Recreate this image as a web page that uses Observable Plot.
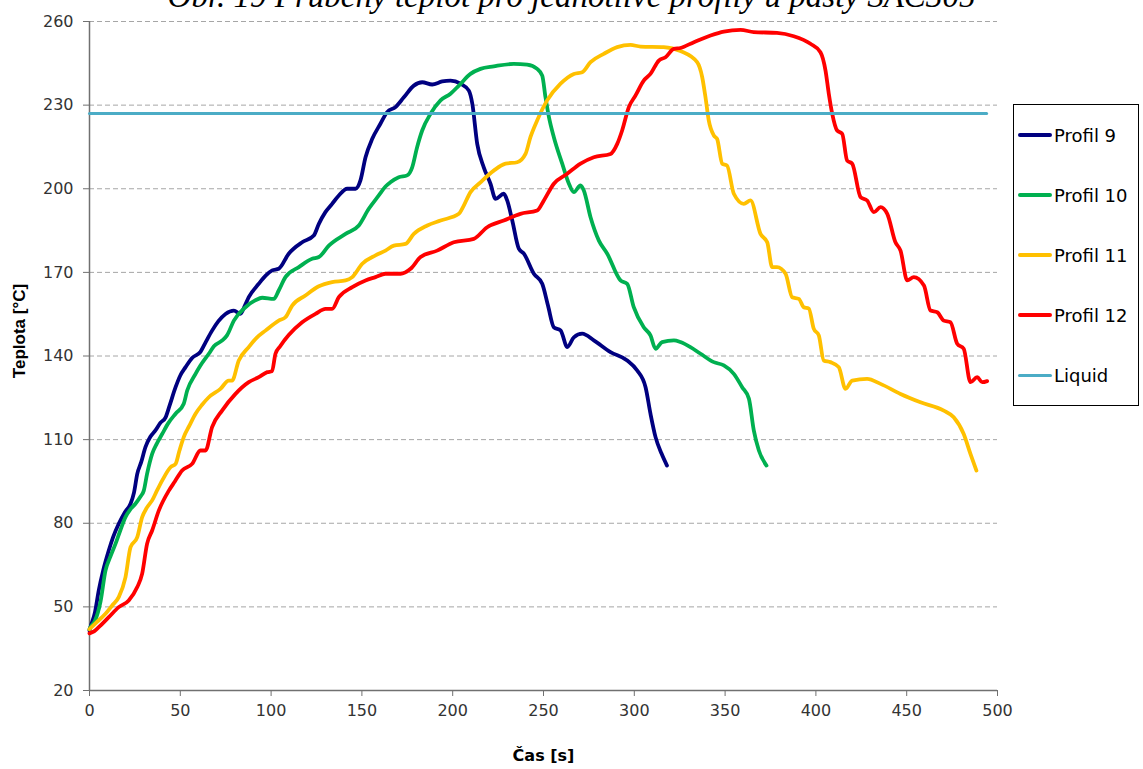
<!DOCTYPE html>
<html>
<head>
<meta charset="utf-8">
<script src="https://cdn.jsdelivr.net/npm/d3@7"></script>
<script src="https://cdn.jsdelivr.net/npm/@observablehq/plot@0.6"></script>
<style>
  html, body { margin: 0; padding: 0; background: #fff; }
  #wrap { position: relative; width: 1143px; height: 769px; overflow: hidden; background: #fff; }
  #title { position: absolute; left: 0; top: -20px; width: 1143px; text-align: center;
           font-family: "Liberation Serif", "Times New Roman", serif; font-style: italic; font-size: 33px; line-height: 1; color: #000; white-space: nowrap; }
  #chart { position: absolute; left: 0; top: 0; }
  #legend { position: absolute; left: 1013px; top: 104px; width: 124px; height: 300px; border: 1px solid #000; background: #fff;
            display: flex; flex-direction: column; justify-content: space-around; box-sizing: content-box; }
  .item { display: flex; align-items: center; height: 22px; font-family: "DejaVu Sans", sans-serif; font-size: 18px; color: #000; }
  .swatch { width: 34px; margin-left: 4px; margin-right: 2px; border-radius: 2px; }
</style>
</head>
<body>
<div id="wrap">
  <div id="chart"></div>
  <div id="title"></div>
  <div id="legend"></div>
</div>
<script>
const titleText = "Obr. 19 Průběhy teplot pro jednotlivé profily u pasty SAC305";
const xLabel = "Čas [s]";
const yLabel = "Teplota [°C]";
const xTicks = [0, 50, 100, 150, 200, 250, 300, 350, 400, 450, 500];
const yTicks = [20, 50, 80, 110, 140, 170, 200, 230, 260];
const seriesNames = ["Profil 9", "Profil 10", "Profil 11", "Profil 12", "Liquid"];
const seriesColors = ["#000080", "#00B050", "#FFC000", "#FF0000", "#4BACC6"];

// [time s, temperature °C]
const profil9 = [[0,41.5],[0.5,42.7],[3,48],[5.1,55.9],[7.5,63],[10.6,70.2],[13,75],[16.1,79.8],[19.5,84],[22.6,87],[24.5,91],[26.3,97.7],[28.5,102],[30.8,107.3],[33.5,111],[36.3,113.3],[39,116],[41.9,118],[44,122],[47.4,128.8],[50,133],[52.9,136],[56.5,139.3],[61.1,141.5],[64,145],[67.5,149.1],[71,152.5],[74.9,155.1],[79.5,156.3],[83.1,155.1],[85.5,158],[87.7,161.1],[93.2,165.9],[97,168.8],[100.6,170.7],[104.2,171.3],[109.7,176.7],[117.1,180.8],[123.5,183.2],[126.3,187.4],[129.9,191.6],[133.5,194.5],[137.3,197.6],[141.9,200],[146.5,200],[149.2,203],[152,211.3],[155.7,217.9],[160.2,223.3],[163.9,227.5],[168.5,229.3],[173.1,232.8],[178.6,237],[183.2,238.2],[188.7,237.4],[194.2,238.5],[198.8,238.8],[204.3,237.7],[208.9,235.2],[210.8,230.5],[213.5,216.1],[217.1,207.7],[220.8,201.8],[223.6,196.4],[228.1,198.2],[230,195.8],[232.8,188.6],[236.4,178.5],[239.2,176.7],[244.7,169.5],[249.3,165.9],[252.5,158],[255.7,150.3],[259.4,149.2],[263.1,143.2],[266.7,146.7],[271.3,148],[277.7,145.6],[286.9,141.4],[296.1,138.4],[301.6,134.8],[306.2,128.8],[308.9,119.3],[311.7,110.9],[315,105],[318,100.7]];
const profil10 = [[0,42],[0.5,42.7],[3,45],[6.1,52],[8.8,63],[11.5,68],[14.3,72.6],[17,77.5],[19.8,82.2],[22.5,85],[25.3,87],[28,89.5],[29.9,91.7],[31.7,97.7],[34.5,104.9],[37,108.5],[40,112],[43.5,116],[47.4,119.3],[51.9,122.9],[53.8,127.6],[58.4,133.6],[61,136.5],[65.7,140.8],[68.5,143.5],[73.1,145.6],[75.8,147.5],[79.5,152.7],[85.9,157.5],[91.4,160],[95.1,160.9],[101.5,160.5],[104.2,163.5],[107.9,168.3],[115.3,171.9],[122.6,174.9],[126.3,175.5],[131.8,179.6],[141,183.8],[148.3,186.8],[153.8,192.8],[159.3,197.6],[163,200.8],[165.7,202.3],[170.3,204.1],[174.9,204.8],[177.7,207.7],[180.4,214.9],[183.2,220.9],[187.8,226.9],[193.3,231.7],[198.8,234.1],[203.4,237],[209.8,241.2],[215.3,243],[222.6,243.9],[233.6,244.8],[241,244.5],[246.5,243],[249.3,240.6],[251.1,232.8],[253,225.7],[255.7,218.5],[260.3,209],[264,201.8],[266.7,198.8],[270.4,201.2],[272.2,199.4],[275.9,189.8],[280.5,181.4],[285.1,176.7],[292.4,167.1],[296.1,165.9],[299.7,157.5],[305.2,150.3],[308.9,147.4],[311.7,142.6],[315.3,145],[321.8,145.6],[325.4,145],[330.9,143.2],[336.5,140.8],[343.8,137.8],[349.3,136.6],[354.8,133.6],[359.4,128.8],[363.1,124.7],[365.8,113.3],[368.6,106.1],[372.8,100.7]];
const profil11 = [[0,42],[4,44.5],[8.8,47.5],[12.5,50.5],[16.1,53.5],[19.8,60.6],[22.6,71.4],[26.3,75],[29,82.2],[31.5,85.5],[34.5,88.2],[37,91.5],[40,95.3],[44.6,100.1],[47.4,101.3],[49.5,106],[51.9,110.9],[55,115],[58.4,119.3],[62,122.5],[65.7,125.2],[72.1,128.2],[76.7,131.2],[78.5,131.2],[82.2,138.4],[87.7,143.2],[92,146.5],[96.9,149.1],[104.2,152.7],[107.9,153.9],[111.6,158.1],[118.9,161.7],[126.3,165],[133.6,166.5],[141,167.1],[144.7,168.3],[150.2,173.1],[157.5,176.1],[163,177.8],[167.6,179.6],[174,180.2],[178.6,183.8],[186,186.8],[193.3,188.6],[203.4,191],[205.2,192.8],[209.8,198.8],[215.3,202.3],[222.6,206.5],[229.1,209],[235.5,209.5],[240.1,212.5],[242.8,218.5],[246.5,224.5],[252,231.7],[259.4,237.7],[266.7,241.2],[271.3,241.8],[275.9,245.4],[283.2,248.4],[290.6,250.8],[297.9,251.6],[303.4,251],[316.2,250.8],[325.4,249.4],[334.6,245.4],[337.4,240],[339.2,232.8],[341,224.5],[343.8,219.1],[345.6,217.9],[348.4,209],[351.1,208.3],[354.8,198.2],[360.3,194.6],[364,195.8],[369.5,183.8],[373.2,180.8],[375.9,171.9],[378.6,171.9],[383.3,169.5],[386.9,161.1],[390.6,160.5],[393.3,157.5],[396.1,157],[398.8,149.8],[401.6,147.4],[404.3,138.4],[408,137.8],[412.6,136],[416.3,128.2],[420,131.2],[428.2,131.8],[435.6,130],[446.6,126.4],[457.6,123.4],[470.4,120.4],[475.9,118],[481.4,112],[485.1,104.9],[488.4,98.9]];
const profil12 = [[0,40.5],[2.5,41.2],[5.1,42.7],[10.6,46.3],[16.1,49.9],[21.6,52.3],[26.3,57.1],[29,61.9],[31.7,72.6],[34.5,77.4],[38.2,84.6],[43.7,91.7],[47,95],[51,98.9],[56.5,101.3],[61.1,106.1],[63.9,106.1],[67.5,114.5],[73.1,120.5],[80.4,126.4],[87.7,130.6],[93.2,132.4],[97.9,134.2],[100.5,134.5],[102.4,140.8],[105,143.5],[109.7,147.5],[117.1,152.1],[124.4,155.1],[130,156.9],[133.6,156.9],[137.3,161.1],[144.7,164.7],[152,167.1],[157.5,168.3],[163,169.5],[171.3,169.5],[176.8,171.3],[182.3,175.5],[191.4,177.8],[200.6,180.8],[211.6,182],[219,186.2],[228.1,188.6],[237.3,191],[246.5,192.2],[250.2,195.8],[255.7,201.8],[263.1,205.4],[270.4,209],[277.7,211.3],[286.9,212.5],[290.6,216.1],[293.3,220.9],[297,229.3],[300.7,233.5],[305.2,238.8],[308.9,241.2],[313.5,246],[317.2,247.2],[321.8,250.2],[325.4,250.5],[332.8,252.6],[342,255],[349.3,256.4],[358.5,257],[365.8,256.2],[378.6,255.9],[387.8,254.7],[397,252],[402.5,249],[405.3,242.4],[407.1,234.1],[409,226.9],[411.7,220.9],[414.5,219.7],[417.2,210.1],[420,209],[424.6,197],[428.2,195.8],[431.9,191.6],[435.6,193.4],[439.3,191],[443.8,180.8],[446.6,177.8],[450.3,167.1],[453.9,168.3],[459.5,165.3],[463.1,156.3],[466.8,155.7],[470.4,152.7],[474.1,152.1],[477.8,144.4],[481.4,142.6],[485.1,130.6],[488.8,132.4],[491.6,130.6],[494.3,131]];
const liquid = [[0,227],[494,227]];

const seriesData = [profil9, profil10, profil11, profil12, liquid];
const rows = [];
seriesData.forEach((arr, i) => arr.forEach(([t, v]) => rows.push({t, v, series: seriesNames[i]})));
const profileRows = rows.filter(d => d.series !== "Liquid");
const liquidRows = rows.filter(d => d.series === "Liquid");
const gridValues = yTicks.filter(v => v !== yTicks[0]);

const chart = Plot.plot({
  width: 1143,
  height: 769,
  marginLeft: 89,
  marginRight: 146,
  marginTop: 21,
  marginBottom: 79,
  x: {domain: [0, 500]},
  y: {domain: [20, 260]},
  color: {domain: seriesNames, range: seriesColors},
  style: {fontFamily: "'DejaVu Sans', sans-serif", fontSize: "16px", background: "#fff", color: "#404040"},
  marks: [
    Plot.ruleY(gridValues, {stroke: "#a6a6a6", strokeWidth: 1, strokeDasharray: "5,3"}),
    Plot.ruleX([0], {y1: 20, y2: 260, stroke: "#707070", strokeWidth: 1.5}),
    Plot.ruleY([20], {stroke: "#707070", strokeWidth: 1.5}),
    Plot.axisX(xTicks, {tickSize: 6, tickPadding: 8, label: null, stroke: "#707070", fill: "#333", fontSize: 16}),
    Plot.axisY(yTicks, {tickSize: 6, tickPadding: 10, label: null, stroke: "#707070", fill: "#333", fontSize: 16}),
    Plot.line(profileRows, {x: "t", y: "v", z: "series", stroke: "series", strokeWidth: 3.8, curve: "monotone-x", strokeLinejoin: "round", strokeLinecap: "round"}),
    Plot.line(liquidRows, {x: "t", y: "v", stroke: "series", strokeWidth: 3}),
    Plot.text([yLabel], {text: d => d, frameAnchor: "left", textAnchor: "middle", dx: -70, dy: -25, rotate: -90, fontWeight: "bold", fontSize: 17, fontFamily: "'Liberation Sans', Arial, sans-serif", fill: "#000"}),
    Plot.text([xLabel], {text: d => d, frameAnchor: "bottom", dy: 70, fontWeight: "bold", fontSize: 16, fill: "#000"})
  ]
});
document.getElementById("chart").appendChild(chart);
document.getElementById("title").textContent = titleText;

const legend = document.getElementById("legend");
seriesNames.forEach((name, i) => {
  const item = document.createElement("div");
  item.className = "item";
  const sw = document.createElement("div");
  sw.className = "swatch";
  sw.style.background = seriesColors[i];
  sw.style.height = (name === "Liquid" ? 3 : 4) + "px";
  const label = document.createElement("span");
  label.textContent = name;
  item.appendChild(sw);
  item.appendChild(label);
  legend.appendChild(item);
});
</script>
</body>
</html>
